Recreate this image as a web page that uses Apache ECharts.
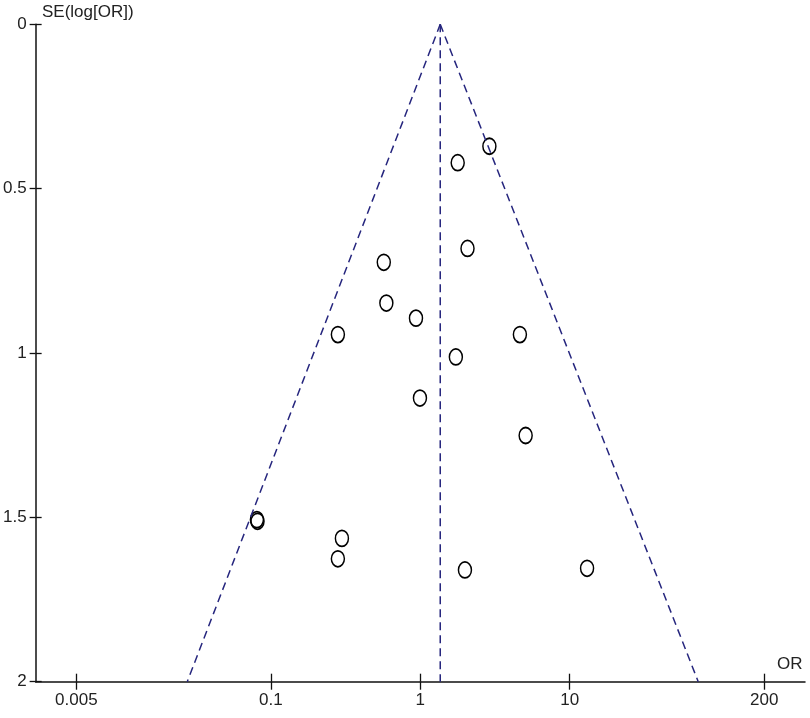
<!DOCTYPE html>
<html>
<head>
<meta charset="utf-8">
<script src="https://cdn.jsdelivr.net/npm/echarts@6/dist/echarts.min.js"></script>
<style>
html,body{margin:0;padding:0;background:#fff;}
#chart{width:810px;height:718px;}
</style>
</head>
<body>
<div id="chart"></div>
<script>
// ---- data ----
const tickOR = [0.005, 0.1, 1, 10, 200];
const tickLabels = ['0.005', '0.1', '1', '10', '200'];
const seTicks = ['0', '0.5', '1', '1.5', '2'];

// study odds ratios and SE(log[OR])
const studyOR = [2.90, 1.78, 2.07, 0.570, 0.593, 0.936, 0.281, 4.64, 1.73, 0.995, 5.07, 0.0807, 0.0815, 0.299, 0.281, 1.99, 13.06];
const studySE = [0.371, 0.421, 0.682, 0.724, 0.848, 0.894, 0.944, 0.944, 1.012, 1.137, 1.251, 1.507, 1.512, 1.564, 1.626, 1.660, 1.655];

// funnel: apex at pooled OR (SE = 0), base at SE = 2
const pooledOR = 1.36;
const funnelBaseOR = [0.0276, 72.4];
const funnelSE = [0, 2];
const axisOR = [0.00267, 375];

// ---- chart ----
const L = Math.log10;
const chart = echarts.init(document.getElementById('chart'), null, {renderer: 'canvas'});
const font = 'Liberation Sans, Arial, sans-serif';
const tickPos = tickOR.map(L);
function labelFor(v) {
  let best = 0, d = Infinity;
  tickPos.forEach((p, i) => { if (Math.abs(p - v) < d) { d = Math.abs(p - v); best = i; } });
  return tickLabels[best];
}
const dashColor = '#26267e';
const dashStyle = {color: dashColor, width: 1.5, type: [8, 5]};
const ellipse = 'path://M0,-1A1,1,0,1,1,0,1A1,1,0,1,1,0,-1Z';

const xBase = {
  type: 'value', min: L(axisOR[0]), max: L(axisOR[1]), position: 'bottom',
  splitLine: {show: false}
};
const yBase = {
  type: 'value', min: 0, max: 2, interval: 0.5, inverse: true, position: 'left',
  splitLine: {show: false}
};

chart.setOption({
  animation: false,
  backgroundColor: '#fff',
  grid: {left: 33.3, right: 5, top: 24.3, bottom: 36.3, containLabel: false},
  xAxis: [
    Object.assign({}, xBase, {
      axisLine: {show: true, onZero: false, lineStyle: {color: '#111', width: 1.5}},
      axisTick: {show: true, inside: false, length: 8, customValues: tickPos, lineStyle: {color: '#111', width: 1.3}},
      axisLabel: {show: true, customValues: tickPos, formatter: labelFor, margin: 10,
        color: '#222', fontSize: 17, fontFamily: font}
    }),
    Object.assign({}, xBase, {
      axisLine: {show: false, onZero: false},
      axisTick: {show: true, inside: true, length: 8, customValues: tickPos, lineStyle: {color: '#111', width: 1.3}},
      axisLabel: {show: false}
    })
  ],
  yAxis: [
    Object.assign({}, yBase, {
      axisLine: {show: true, onZero: false, lineStyle: {color: '#111', width: 1.5}},
      axisTick: {show: true, inside: false, length: 6, lineStyle: {color: '#111', width: 1.3}},
      axisLabel: {show: true, margin: 9, color: '#222', fontSize: 17, fontFamily: font,
        formatter: (v) => seTicks[Math.round(v / 0.5)]}
    }),
    Object.assign({}, yBase, {
      axisLine: {show: false, onZero: false},
      axisTick: {show: true, inside: true, length: 6, lineStyle: {color: '#111', width: 1.3}},
      axisLabel: {show: false}
    })
  ],
  graphic: [
    {type: 'text', left: 42, top: 4, style: {text: 'SE(log[OR])', fill: '#222', font: '17px ' + font}},
    {type: 'text', left: 777, top: 656, style: {text: 'OR', fill: '#222', font: '17px ' + font}}
  ],
  series: [
    {type: 'line', xAxisIndex: 0, yAxisIndex: 0, symbol: 'none', silent: true, lineStyle: dashStyle,
      data: [[L(pooledOR), funnelSE[0]], [L(funnelBaseOR[0]), funnelSE[1]]]},
    {type: 'line', xAxisIndex: 0, yAxisIndex: 0, symbol: 'none', silent: true, lineStyle: dashStyle,
      data: [[L(pooledOR), funnelSE[0]], [L(funnelBaseOR[1]), funnelSE[1]]]},
    {type: 'line', xAxisIndex: 0, yAxisIndex: 0, symbol: 'none', silent: true, lineStyle: dashStyle,
      data: [[L(pooledOR), funnelSE[0]], [L(pooledOR), funnelSE[1]]]},
    {type: 'scatter', xAxisIndex: 0, yAxisIndex: 0, symbol: ellipse, symbolSize: [13, 16],
      itemStyle: {color: 'transparent', borderColor: '#000', borderWidth: 1.6, opacity: 1},
      data: studyOR.map((o, i) => [L(o), studySE[i]])}
  ]
});
</script>
</body>
</html>
